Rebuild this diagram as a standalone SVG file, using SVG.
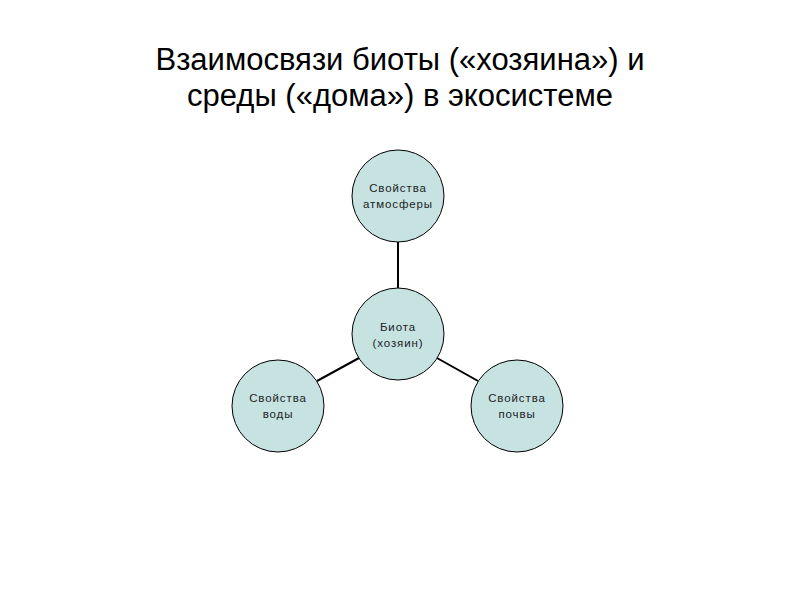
<svg xmlns="http://www.w3.org/2000/svg" width="800" height="600" viewBox="0 0 800 600">
<style>
.t{font-family:"Liberation Sans",Arial,sans-serif;font-size:31px;fill:#000;text-anchor:middle}
.n circle{fill:#c6e3e2;stroke:#000;stroke-width:1}
.n text{font-family:"Liberation Sans",Arial,sans-serif;font-size:11.5px;fill:#222;text-anchor:middle;letter-spacing:0.9px}
.c line{stroke:#000;stroke-width:2}
</style>
<rect width="800" height="600" fill="#fff"/>
<text class="t" x="400" y="70">Взаимосвязи биоты («хозяина») и</text>
<text class="t" x="400" y="106">среды («дома») в экосистеме</text>
<g class="c" id="connectors">
<line x1="398" y1="242" x2="398" y2="288"/>
<line x1="317" y1="381" x2="359" y2="358"/>
<line x1="437" y1="358" x2="478" y2="381"/>
</g>
<g class="n" id="atm"><circle cx="398" cy="196" r="46"/><text x="398" y="192">Свойства</text><text x="398" y="208">атмосферы</text></g>
<g class="n" id="biota"><circle cx="398" cy="334" r="46"/><text x="398" y="331">Биота</text><text x="398" y="347">(хозяин)</text></g>
<g class="n" id="water"><circle cx="278" cy="406" r="46"/><text x="278" y="402">Свойства</text><text x="278" y="418">воды</text></g>
<g class="n" id="soil"><circle cx="517" cy="406" r="46"/><text x="517" y="402">Свойства</text><text x="517" y="418">почвы</text></g>
</svg>
